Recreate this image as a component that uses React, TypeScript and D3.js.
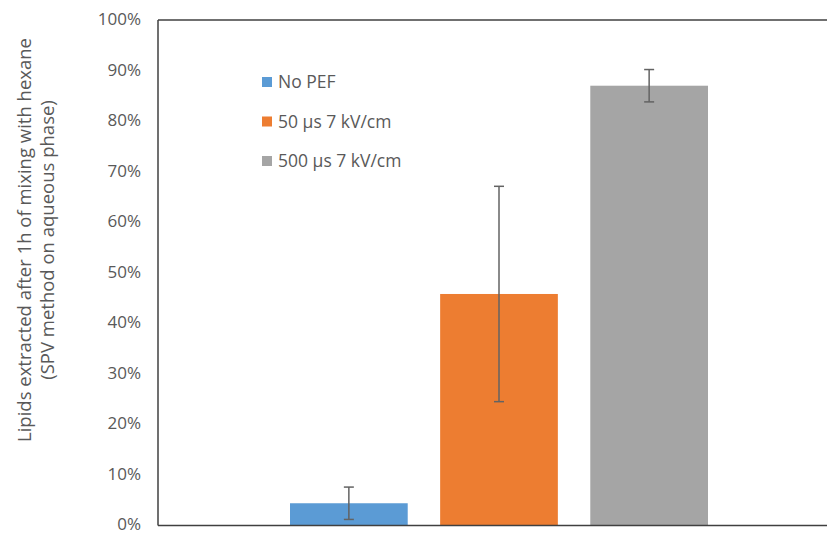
import React from "react";
import * as d3 from "d3";

const categories = ["Lipids"];
const seriesNames = ["No PEF", "50 µs 7 kV/cm", "500 µs 7 kV/cm"];
const seriesValues = [4.4, 45.8, 87.0];
const seriesErrors = [3.2, 21.3, 3.2];
const seriesColors = ["#5b9bd5", "#ed7d31", "#a5a5a5"];
const yTicks = [0, 10, 20, 30, 40, 50, 60, 70, 80, 90, 100];
const yTitleLines = ["Lipids extracted after 1h of mixing with hexane", "(SPV method on aqueous phase)"];

const W = 827;
const H = 534;
const left = 158;
const right = 840;
const top = 20;
const bottom = 525.5;
const font = "'Open Sans', 'Noto Sans', sans-serif";
const textColor = "#595959";

export default function App() {
  const y = d3.scaleLinear().domain([0, 100]).range([bottom, top]);
  const x0 = d3.scaleBand<string>().domain(categories).range([left, right]).padding(0.24);
  const x1 = d3
    .scaleBand<string>()
    .domain(seriesNames)
    .range([0, x0.bandwidth()])
    .paddingInner(0.216)
    .paddingOuter(0);
  const cat = categories[0];
  const capHalf = 5;

  return (
    <svg
      width={W}
      height={H}
      style={{ position: "absolute", left: 0, top: 0, background: "#fff" }}
      fontFamily={font}
    >
      <rect x={0} y={0} width={W} height={H} fill="#fff" />
      {seriesNames.map((s, i) => {
        const bx = (x0(cat) as number) + (x1(s) as number);
        const bw = x1.bandwidth();
        const cx = bx + bw / 2;
        const v = seriesValues[i];
        const e = seriesErrors[i];
        return (
          <g key={s}>
            <rect x={bx} y={y(v)} width={bw} height={y(0) - y(v)} fill={seriesColors[i]} />
            <line x1={cx} x2={cx} y1={y(v + e)} y2={y(v - e)} stroke="#636363" strokeWidth={1.5} />
            <line x1={cx - capHalf} x2={cx + capHalf} y1={y(v + e)} y2={y(v + e)} stroke="#636363" strokeWidth={1.5} />
            <line x1={cx - capHalf} x2={cx + capHalf} y1={y(v - e)} y2={y(v - e)} stroke="#636363" strokeWidth={1.5} />
          </g>
        );
      })}
      <line x1={left} x2={W} y1={top} y2={top} stroke="#404040" strokeWidth={1.5} />
      <line x1={left} x2={W} y1={bottom} y2={bottom} stroke="#404040" strokeWidth={1.5} />
      <line x1={left} x2={left} y1={top} y2={bottom} stroke="#404040" strokeWidth={1.5} />
      {yTicks.map((t) => (
        <text
          key={t}
          x={141}
          y={y(t) - 1}
          dy="0.35em"
          textAnchor="end"
          fontSize={17}
          fill={textColor}
        >
          {`${t}%`}
        </text>
      ))}
      {yTitleLines.map((line, i) => (
        <text
          key={i}
          transform={`translate(${31 + i * 23}, 240) rotate(-90)`}
          textAnchor="middle"
          fontSize={18.5}
          fill={textColor}
        >
          {line}
        </text>
      ))}
      {seriesNames.map((s, i) => (
        <g key={s} transform={`translate(262, ${77 + i * 39.5})`}>
          <rect x={0} y={0} width={10} height={10} fill={seriesColors[i]} />
          <text x={16} y={5} dy="0.35em" fontSize={17.5} fill={textColor}>
            {s}
          </text>
        </g>
      ))}
    </svg>
  );
}
